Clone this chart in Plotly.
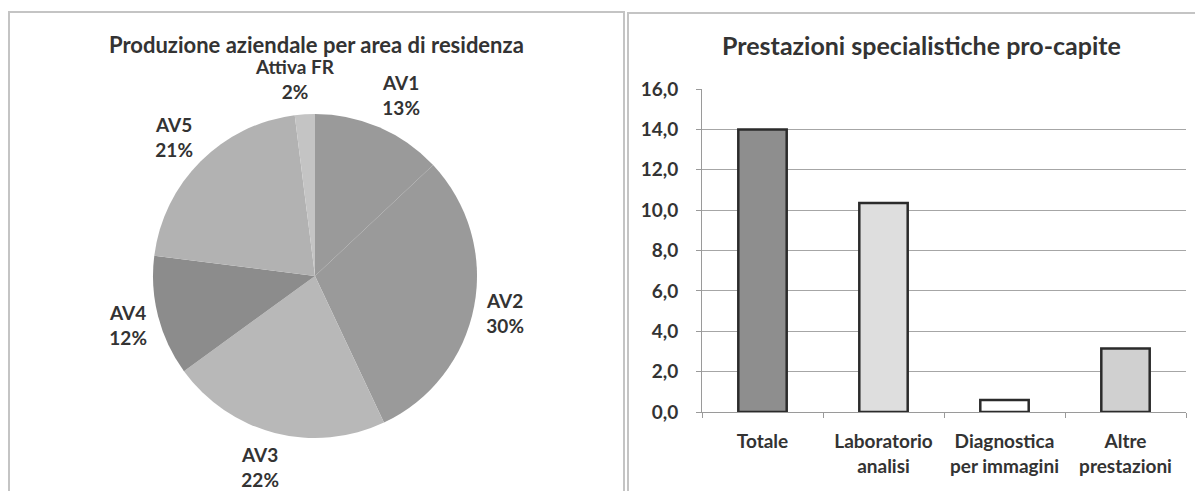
import math

import plotly.graph_objects as go

# the page body adds an 8px margin at top/left; the figure fills the rest
OFF = 8
W, H = 1203 - OFF, 491 - OFF

# pie data (clockwise from 12 o'clock)
pie_labels = ["AV1", "AV2", "AV3", "AV4", "AV5", "Attiva FR"]
pie_values = [13, 30, 22, 12, 21, 2]
pie_colors = ["#9a9a9a", "#9a9a9a", "#b8b8b8", "#8c8c8c", "#b2b2b2", "#c4c4c4"]

# bar data
bar_cats = ["Totale", "Laboratorio<br>analisi", "Diagnostica<br>per immagini", "Altre<br>prestazioni"]
bar_values = [14.0, 10.35, 0.6, 3.15]
bar_colors = ["#8e8e8e", "#dedede", "#ffffff", "#d0d0d0"]

FONT = "Lato, Carlito, Calibri, Arial, sans-serif"
TXT = "#333333"

# pie geometry in screen pixels
PIE_CX, PIE_CY, PIE_R = 315, 276, 162
GAP = 16
LBL = 19


def px_x(v):
    return (v - OFF) / W


def px_y(v):
    return 1 - (v - OFF) / H


fig = go.Figure()

fig.add_trace(go.Pie(
    labels=pie_labels,
    values=pie_values,
    sort=False,
    direction="clockwise",
    rotation=0,
    marker=dict(colors=pie_colors, line=dict(width=0)),
    textinfo="none",
    domain=dict(x=[px_x(PIE_CX - PIE_R), px_x(PIE_CX + PIE_R)],
                y=[px_y(PIE_CY + PIE_R), px_y(PIE_CY - PIE_R)]),
    showlegend=False,
    hoverinfo="label+percent",
))

fig.add_trace(go.Bar(
    x=bar_cats,
    y=bar_values,
    width=0.4,
    marker=dict(color=bar_colors, line=dict(color="#2b2b2b", width=2.5)),
    showlegend=False,
))

# outside labels for the pie, set just beyond each slice's mid angle
total = sum(pie_values)
annotations = []
acc = 0
for name, val in zip(pie_labels, pie_values):
    mid = (acc + val / 2) / total * 2 * math.pi
    acc += val
    pct = f"{round(val / total * 100)}%"
    s, c = math.sin(mid), math.cos(mid)
    bw = max(len(name), len(pct)) * 0.52 * LBL
    bh = 2.0 * LBL
    px = PIE_CX + (PIE_R + GAP) * s
    py = PIE_CY - (PIE_R + GAP) * c
    lx = px + bw / 2 * math.copysign(min(1.0, abs(s) * 3), s)
    ly = py - bh / 2 * c
    annotations.append(dict(
        text=f"<b>{name}<br>{pct}</b>",
        x=px_x(lx), y=px_y(ly), xref="paper", yref="paper",
        xanchor="center", yanchor="middle", showarrow=False,
        font=dict(family=FONT, size=LBL, color=TXT),
    ))

annotations += [
    dict(text="<b>Produzione aziendale per area di residenza</b>",
         x=px_x(316), y=px_y(45), xref="paper", yref="paper",
         xanchor="center", yanchor="middle",
         showarrow=False, font=dict(family=FONT, size=22, color=TXT)),
    dict(text="<b>Prestazioni specialistiche pro-capite</b>",
         x=px_x(921), y=px_y(45), xref="paper", yref="paper",
         xanchor="center", yanchor="middle",
         showarrow=False, font=dict(family=FONT, size=25, color=TXT)),
]

fig.update_layout(
    template="none",
    width=W,
    height=H,
    margin=dict(l=0, r=0, t=0, b=0, pad=0),
    paper_bgcolor="white",
    plot_bgcolor="white",
    separators=",.",
    font=dict(family=FONT, size=19, color=TXT),
    xaxis=dict(
        domain=[px_x(702), px_x(1186)],
        type="category",
        automargin=False,
        showline=True,
        linecolor="#9a9a9a",
        linewidth=1,
        ticks="outside",
        tickson="boundaries",
        ticklen=5,
        tickcolor="#9a9a9a",
        ticklabelstandoff=12,
        showgrid=False,
        zeroline=False,
        tickfont=dict(family=FONT, size=19, color=TXT, weight="bold"),
        fixedrange=True,
    ),
    yaxis=dict(
        domain=[px_y(412), px_y(89)],
        range=[0, 16],
        dtick=2,
        tickformat=".1f",
        automargin=False,
        showline=True,
        linecolor="#9a9a9a",
        linewidth=1,
        ticks="outside",
        ticklen=5,
        tickcolor="#9a9a9a",
        ticklabelstandoff=14,
        showgrid=True,
        gridcolor="#a6a6a6",
        gridwidth=1,
        zeroline=False,
        tickfont=dict(family=FONT, size=19, color=TXT, weight="bold"),
        fixedrange=True,
    ),
    annotations=annotations,
    shapes=[
        dict(type="rect", xref="paper", yref="paper",
             x0=px_x(9), x1=px_x(624), y0=px_y(510), y1=px_y(12),
             line=dict(color="#c4c4c4", width=2)),
        dict(type="rect", xref="paper", yref="paper",
             x0=px_x(628), x1=px_x(1230), y0=px_y(510), y1=px_y(13),
             line=dict(color="#c4c4c4", width=2)),
    ],
)

fig.write_html("out.html")
